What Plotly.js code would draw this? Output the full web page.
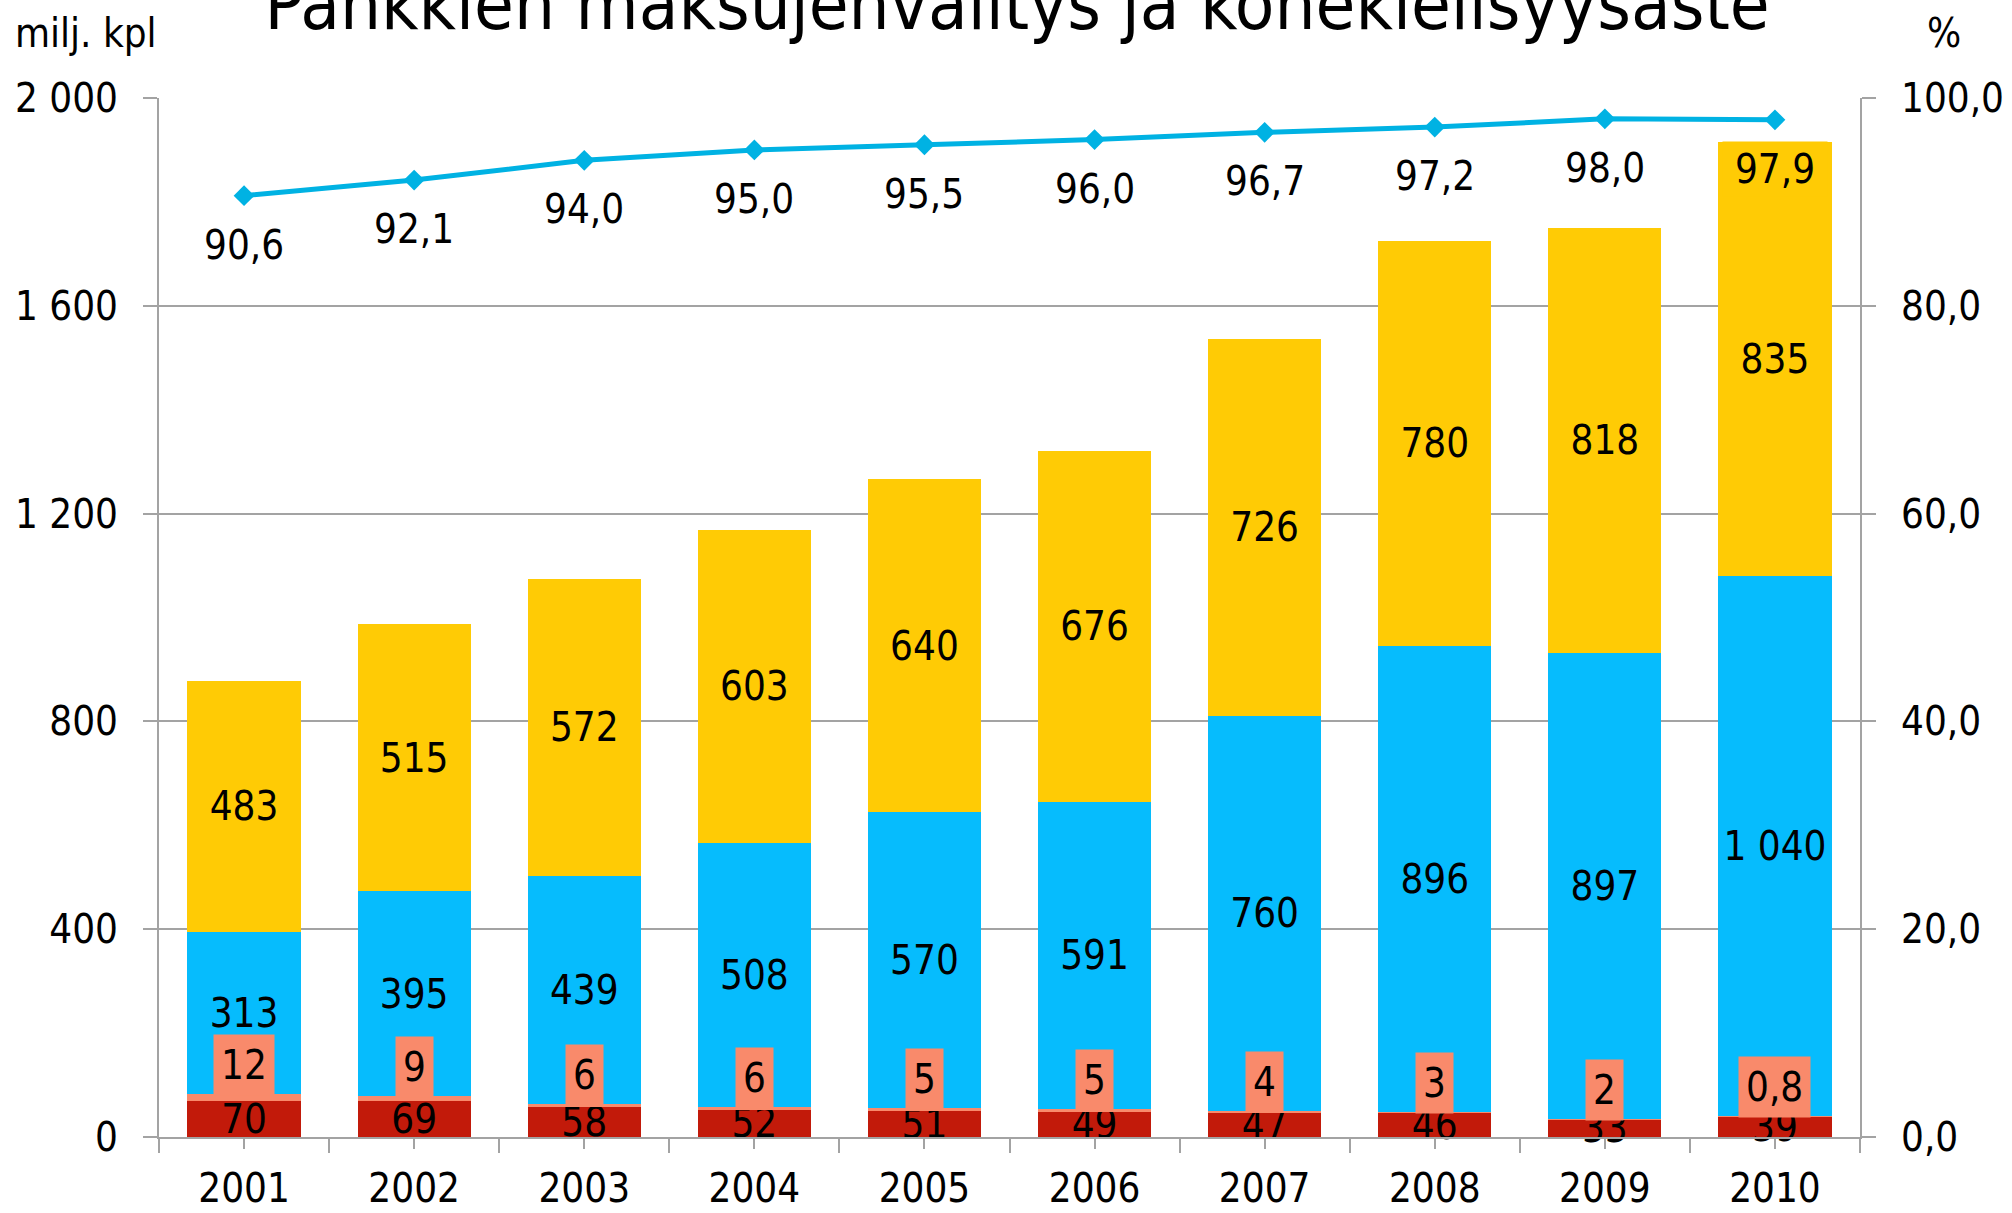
<!DOCTYPE html>
<html>
<head>
<meta charset="utf-8">
<script src="https://cdn.plot.ly/plotly-3.0.1.min.js"></script>
<style>html,body{margin:0;padding:0;background:#fff;}#chart{width:2012px;height:1213px;}</style>
</head>
<body>
<div id="chart"></div>
<script>
// ---- data ----
const years = ['2001','2002','2003','2004','2005','2006','2007','2008','2009','2010'];
const seriesRed = [70, 69, 58, 52, 51, 49, 47, 46, 33, 39];
const seriesSalmon = [12, 9, 6, 6, 5, 5, 4, 3, 2, 0.8];
const seriesBlue = [313, 395, 439, 508, 570, 591, 760, 896, 897, 1040];
const seriesYellow = [483, 515, 572, 603, 640, 676, 726, 780, 818, 835];
const pctLine = [90.6, 92.1, 94.0, 95.0, 95.5, 96.0, 96.7, 97.2, 98.0, 97.9];
const leftTicks = [0, 400, 800, 1200, 1600, 2000];
const rightTicks = [0, 20, 40, 60, 80, 100];
const titleText = 'Pankkien maksujenvälitys ja konekielisyysaste';
const leftUnit = 'milj. kpl';
const rightUnit = '%';

const FONT = 'DejaVu Sans Condensed, DejaVu Sans, sans-serif';
const idx = years.map((_, i) => i);
const fi = v => String(v).replace('.', ',');

function barTrace(vals, color, withText) {
  const t = {
    type: 'bar', x: idx, y: vals,
    marker: { color: color, line: { width: 0 } },
    hoverinfo: 'skip', cliponaxis: false
  };
  if (withText) {
    t.texttemplate = '%{y:,}';
    t.textposition = 'inside';
    t.insidetextanchor = 'middle';
    t.textangle = 0;
    t.constraintext = 'none';
    t.textfont = { family: FONT, size: 40, color: '#000' };
  } else {
    t.textposition = 'none';
  }
  return t;
}

const traces = [
  barTrace(seriesRed, '#C21A0A', true),
  barTrace(seriesSalmon, '#F98A6B', false),
  barTrace(seriesBlue, '#06BCFD', true),
  barTrace(seriesYellow, '#FFCB05', true),
  {
    type: 'scatter', mode: 'lines+markers', x: idx, y: pctLine, yaxis: 'y2',
    line: { color: '#00B2E3', width: 5 },
    marker: { symbol: 'diamond', size: 16, color: '#00B2E3' },
    hoverinfo: 'skip', cliponaxis: false
  }
];

const annotations = [];
// salmon segment labels (boxed)
seriesSalmon.forEach((v, i) => {
  annotations.push({
    x: i, y: seriesRed[i] + v, xref: 'x', yref: 'y',
    text: fi(v), showarrow: false, xanchor: 'center', yanchor: 'middle',
    yshift: 29, bgcolor: '#F98A6B', borderpad: 7,
    font: { family: FONT, size: 40, color: '#000' }
  });
});
// line labels
pctLine.forEach((v, i) => {
  annotations.push({
    x: i, y: v, xref: 'x', yref: 'y2',
    text: v.toFixed(1).replace('.', ','), showarrow: false,
    xanchor: 'center', yanchor: 'middle', yshift: -49,
    bgcolor: i === pctLine.length - 1 ? '#FFCB05' : 'rgba(0,0,0,0)',
    width: i === pctLine.length - 1 ? 96 : undefined,
    borderpad: 4,
    font: { family: FONT, size: 40, color: '#000' }
  });
});
annotations.push({
  text: leftUnit, xref: 'paper', yref: 'paper', x: -0.0858, y: 1.0626,
  xanchor: 'left', yanchor: 'middle', showarrow: false,
  font: { family: FONT, size: 40, color: '#000' }
});
annotations.push({
  text: rightUnit, xref: 'paper', yref: 'paper', x: 1.0494, y: 1.0626,
  xanchor: 'center', yanchor: 'middle', showarrow: false,
  font: { family: FONT, size: 40, color: '#000' }
});

const GRID = '#a3a3a3';
const layout = {
  width: 2012, height: 1213,
  margin: { l: 159, r: 152, t: 98, b: 76, pad: 0 },
  paper_bgcolor: '#fff', plot_bgcolor: '#fff',
  separators: ', ',
  barmode: 'stack', bargap: 0.335,
  showlegend: false,
  font: { family: FONT, size: 40, color: '#000' },
  title: {
    text: titleText, xref: 'container', yref: 'container',
    x: 0.5055, xanchor: 'center', y: 1 - 29 / 1213, yanchor: 'bottom',
    font: { family: FONT, size: 72, color: '#000' }
  },
  xaxis: {
    type: 'linear', range: [-0.5, years.length - 0.5],
    tickmode: 'array', tickvals: idx, ticktext: years,
    ticks: 'outside', ticklen: 10, tickwidth: 2, tickcolor: GRID,
    minor: { tickmode: 'linear', tick0: 0.5, dtick: 1, ticks: 'outside', ticklen: 14, tickwidth: 2, tickcolor: GRID, showgrid: false },
    showline: true, linecolor: GRID, linewidth: 2,
    showgrid: false, zeroline: false, fixedrange: true,
    ticklabelstandoff: 5,
    tickfont: { family: FONT, size: 40, color: '#000' }
  },
  yaxis: {
    range: [0, 2000], tickmode: 'array', tickvals: leftTicks, tickformat: ',',
    ticks: 'outside', ticklen: 14, tickwidth: 2, tickcolor: GRID,
    showgrid: true, gridcolor: GRID, gridwidth: 2,
    showline: true, linecolor: GRID, linewidth: 2, zeroline: false,
    ticklabelstandoff: 17,
    tickfont: { family: FONT, size: 40, color: '#000' }
  },
  yaxis2: {
    range: [0, 100], overlaying: 'y', side: 'right',
    tickmode: 'array', tickvals: rightTicks, tickformat: '.1f',
    ticks: 'outside', ticklen: 14, tickwidth: 2, tickcolor: GRID,
    showgrid: false, showline: true, linecolor: GRID, linewidth: 2, zeroline: false,
    ticklabelstandoff: 17,
    tickfont: { family: FONT, size: 40, color: '#000' }
  },
  annotations: annotations
};

Plotly.newPlot('chart', traces, layout, { staticPlot: true, displayModeBar: false });
</script>
</body>
</html>
